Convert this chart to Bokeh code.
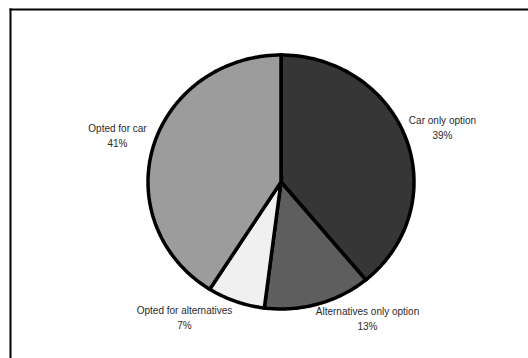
import numpy as np
from bokeh.plotting import figure
from bokeh.models import Range1d, ColumnDataSource
from bokeh.core.properties import value
from bokeh.embed import file_html
from bokeh.resources import INLINE

# ---- data ----
categories = ["Car only option", "Alternatives only option", "Opted for alternatives", "Opted for car"]
shares = [39, 13, 7, 41]
pct_labels = ["39%", "13%", "7%", "41%"]
colors = ["#363636", "#5e5e5e", "#f0f0f0", "#9c9c9c"]

# ---- layout (pixel geometry of the page) ----
W, H = 528, 358
CX, CY, RX, RY = 280.5, 181.5, 133.0, 127.0

def dx(px):
    return (px - CX) / RX

def dy(py):
    return (CY - py) / RY

# label anchor positions (pixels, centre of the name line)
label_px = [(442, 120), (367, 311), (184, 310), (117, 128)]

p = figure(width=W, height=H, output_backend="svg", toolbar_location=None,
           x_range=Range1d(dx(0), dx(W)), y_range=Range1d(dy(H), dy(0)),
           min_border=0, min_border_left=0, min_border_right=0,
           min_border_top=0, min_border_bottom=0)
p.axis.visible = False
p.grid.visible = False
p.outline_line_color = None
p.background_fill_color = "white"
p.border_fill_color = "white"

# frame: only its top and left edges fall inside the window
p.segment(x0=[dx(10), dx(10)], y0=[dy(9), dy(9)],
          x1=[dx(W + 10), dx(10)], y1=[dy(9), dy(H + 10)],
          line_color="black", line_width=2, line_cap="square")

# pie slices, clockwise from the top, through the data ranges
total = float(sum(shares))
xs, ys = [], []
start = 0.0
for s in shares:
    end = start + s / total * 2 * np.pi
    t = np.linspace(start, end, max(int(s * 4), 8))
    xs.append([0.0] + list(np.sin(t)) + [0.0])
    ys.append([0.0] + list(np.cos(t)) + [0.0])
    start = end

src = ColumnDataSource(dict(xs=xs, ys=ys, color=colors, name=categories))
p.patches("xs", "ys", source=src, fill_color="color", line_color="black",
          line_width=3.5, line_join="miter")

lsrc = ColumnDataSource(dict(
    x=[dx(a) for a, b in label_px],
    y=[dy(b) for a, b in label_px],
    name=categories, pct=pct_labels))
p.text("x", "y", text="name", source=lsrc, text_align="center", text_baseline="middle",
       text_font=value("Liberation Sans"), text_font_size="10px", text_color="#2a2a2a")
p.text("x", "y", text="pct", source=lsrc, text_align="center", text_baseline="middle",
       y_offset=15, text_font=value("Liberation Sans"), text_font_size="10px",
       text_color="#2a2a2a")

open("out.html", "w").write(file_html(p, INLINE))
